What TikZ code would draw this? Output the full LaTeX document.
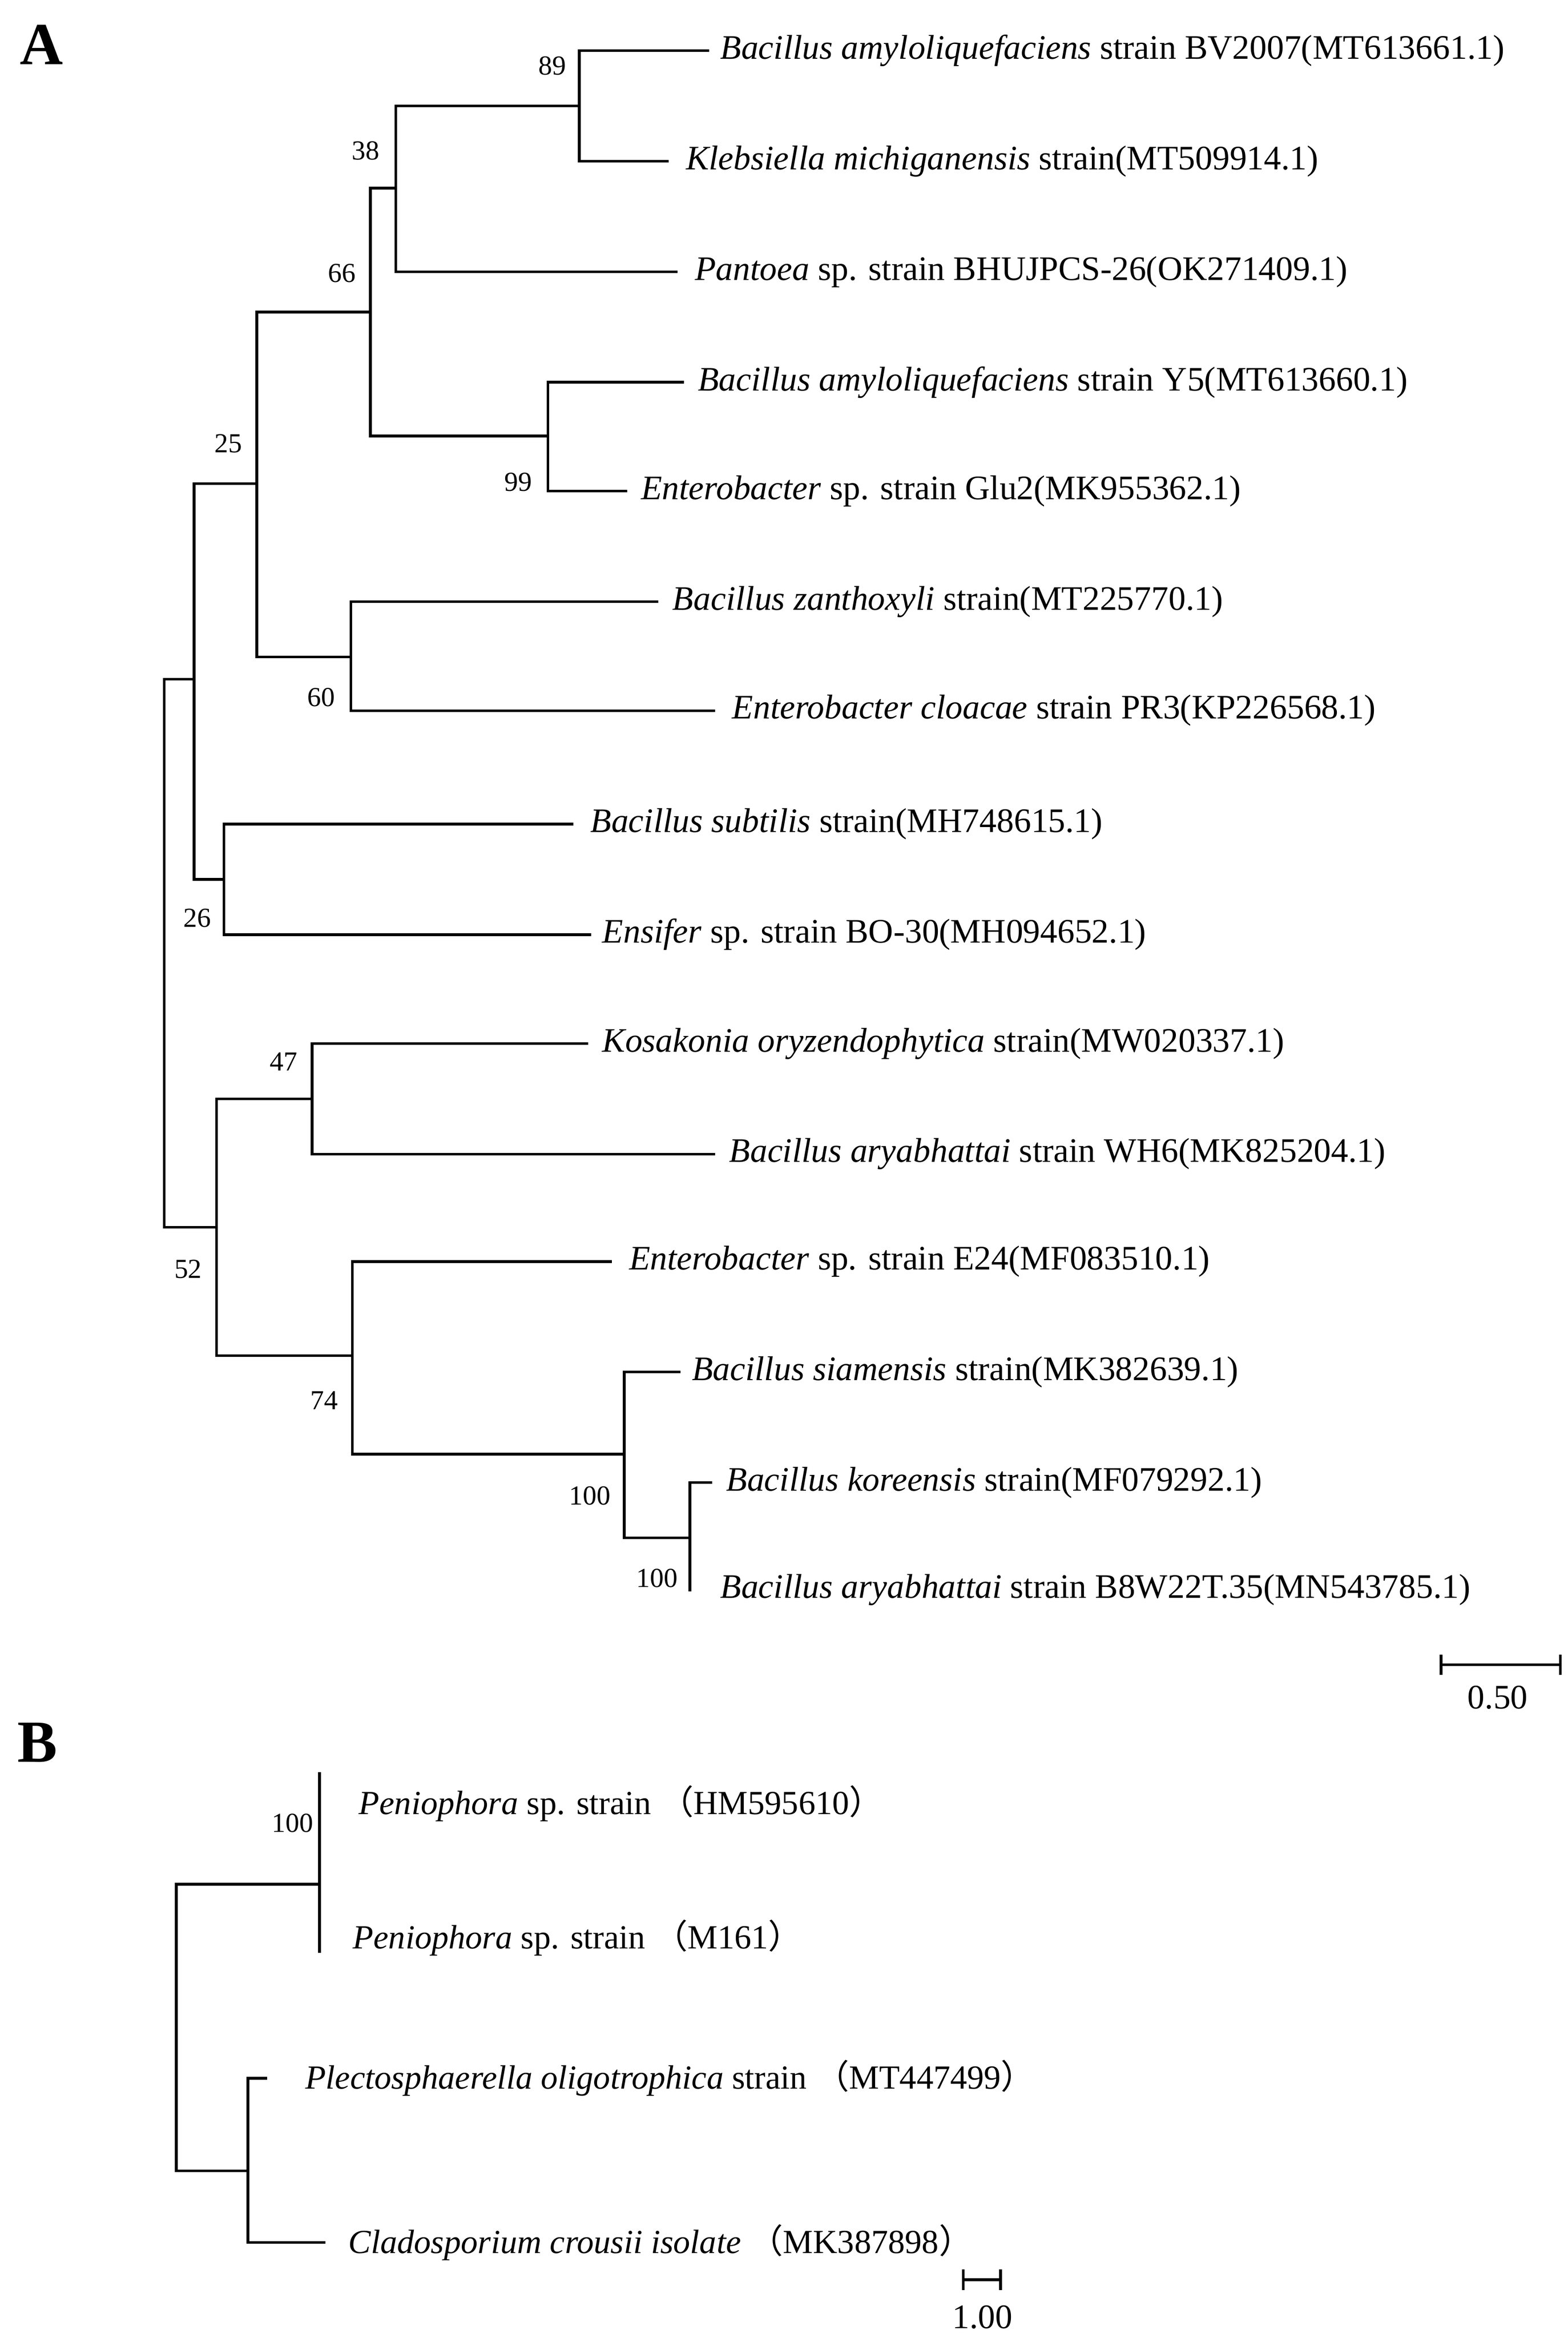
\documentclass[tikz,border=0pt]{standalone}
\usepackage{fontspec}
\setmainfont{Liberation Serif}
\newfontfamily\cjk{Noto Sans CJK SC}
\usetikzlibrary{positioning}

\newcommand{\fp}[1]{{\cjk （}#1{\cjk ）}}

\begin{document}
\begin{tikzpicture}[
    x=0.5pt, y=-0.5pt,
    branch/.style={line width=0.9pt, line cap=rect},
    taxon/.style={anchor=west, inner sep=0pt, font=\fontsize{11.5}{13}\selectfont},
    taxonB/.style={anchor=west, inner sep=0pt, font=\fontsize{11.3}{13}\selectfont},
    boot/.style={inner sep=0pt, font=\fontsize{9.2}{11}\selectfont},
    panel/.style={inner sep=0pt, font=\fontsize{20}{22}\selectfont\bfseries}
]
\useasboundingbox (0,0) rectangle (1050,1566);

% panel A: internal nodes and tips
\coordinate (root) at (110,638);
\coordinate (n130) at (130,455);
\coordinate (n25) at (172,324);
\coordinate (n66) at (248,209);
\coordinate (n38) at (265,126);
\coordinate (n89) at (388,71);
\coordinate (n99) at (367,292);
\coordinate (n60) at (235,440);
\coordinate (n26) at (150,589);
\coordinate (n52) at (145,822);
\coordinate (n47) at (209,736);
\coordinate (n74) at (236,908);
\coordinate (n100a) at (418,974);
\coordinate (n100b) at (462,1030);
\coordinate (tBV) at (474,34);
\coordinate (tKle) at (447,108);
\coordinate (tPan) at (453,182);
\coordinate (tY5) at (457,256);
\coordinate (tGlu) at (419,329);
\coordinate (tZan) at (440,403);
\coordinate (tClo) at (478,476);
\coordinate (tSub) at (383,552);
\coordinate (tEns) at (395,626);
\coordinate (tKos) at (393,699);
\coordinate (tWH6) at (478,773);
\coordinate (tE24) at (409,845);
\coordinate (tSia) at (455,919);
\coordinate (tKor) at (476,993);
\coordinate (tB8) at (462,1065);

\draw[branch] (n130) -| (root) |- (n52);
\draw[branch] (n25) -| (n130) |- (n26);
\draw[branch] (n66) -| (n25) |- (n60);
\draw[branch] (n38) -| (n66) |- (n99);
\draw[branch] (n89) -| (n38) |- (tPan);
\draw[branch] (tBV) -| (n89) |- (tKle);
\draw[branch] (tY5) -| (n99) |- (tGlu);
\draw[branch] (tZan) -| (n60) |- (tClo);
\draw[branch] (tSub) -| (n26) |- (tEns);
\draw[branch] (n47) -| (n52) |- (n74);
\draw[branch] (tKos) -| (n47) |- (tWH6);
\draw[branch] (tE24) -| (n74) |- (n100a);
\draw[branch] (tSia) -| (n100a) |- (n100b);
\draw[branch] (tKor) -| (n100b) |- (tB8);

\node[taxon, right=4pt of tBV] (lBV) {\textit{Bacillus amyloliquefaciens} strain BV2007(MT613661.1)};
\node[taxon, right=6pt of tKle] (lKle) {\textit{Klebsiella michiganensis} strain(MT509914.1)};
\node[taxon, right=6pt of tPan] (lPan) {\textit{Pantoea} sp. strain BHUJPCS-26(OK271409.1)};
\node[taxon, right=5pt of tY5] (lY5) {\textit{Bacillus amyloliquefaciens} strain Y5(MT613660.1)};
\node[taxon, right=5pt of tGlu] (lGlu) {\textit{Enterobacter} sp. strain Glu2(MK955362.1)};
\node[taxon, right=5pt of tZan] (lZan) {\textit{Bacillus zanthoxyli} strain(MT225770.1)};
\node[taxon, right=6pt of tClo] (lClo) {\textit{Enterobacter cloacae} strain PR3(KP226568.1)};
\node[taxon, right=6pt of tSub] (lSub) {\textit{Bacillus subtilis} strain(MH748615.1)};
\node[taxon, right=4pt of tEns] (lEns) {\textit{Ensifer} sp. strain BO-30(MH094652.1)};
\node[taxon, right=5pt of tKos] (lKos) {\textit{Kosakonia oryzendophytica} strain(MW020337.1)};
\node[taxon, right=5pt of tWH6] (lWH6) {\textit{Bacillus aryabhattai} strain WH6(MK825204.1)};
\node[taxon, right=6pt of tE24] (lE24) {\textit{Enterobacter} sp. strain E24(MF083510.1)};
\node[taxon, right=4pt of tSia] (lSia) {\textit{Bacillus siamensis} strain(MK382639.1)};
\node[taxon, right=5pt of tKor] (lKor) {\textit{Bacillus koreensis} strain(MF079292.1)};
\node[taxon, right=10pt of tB8] (lB8) {\textit{Bacillus aryabhattai} strain B8W22T.35(MN543785.1)};

\node[boot] (b89) at (370,44) {89};
\node[boot] (b38) at (245,101) {38};
\node[boot] (b66) at (229,183) {66};
\node[boot] (b25) at (153,297) {25};
\node[boot] (b99) at (347,323) {99};
\node[boot] (b60) at (215,467) {60};
\node[boot] (b26) at (132,615) {26};
\node[boot] (b47) at (190,711) {47};
\node[boot] (b52) at (126,850) {52};
\node[boot] (b74) at (217,938) {74};
\node[boot] (b100a) at (395,1002) {100};
\node[boot] (b100b) at (440,1057) {100};

% scale bar A
\coordinate (sA1) at (965,1115);
\coordinate (sA2) at (1045,1115);
\draw[branch] (sA1) -- (sA2);
\draw[branch] ([yshift=-3pt]sA1) -- ([yshift=3pt]sA1);
\draw[branch] ([yshift=-3pt]sA2) -- ([yshift=3pt]sA2);
\node[boot, font=\fontsize{11.5}{13}\selectfont] (lsA) at (1003,1137) {0.50};

\node[panel] (pA) at (28,30) {A};
\node[panel] (pB) at (25,1167) {B};

% panel B
\coordinate (rootB) at (118,1360);
\coordinate (nPen) at (214,1262);
\coordinate (nLow) at (166,1454);
\coordinate (tPen1) at (214,1188);
\coordinate (tPen2) at (214,1307);
\coordinate (tPle) at (178,1392);
\coordinate (tCla) at (217,1502);

\draw[branch] (nPen) -| (rootB) |- (nLow);
\draw[branch] (tPen1) -- (tPen2);
\draw[branch] (tPle) -| (nLow) |- (tCla);

\node[taxonB, right=13pt of tPen1, yshift=-10pt] (lPen1) {\textit{Peniophora} sp. strain \fp{HM595610}};
\node[taxonB, right=11pt of tPen2, yshift=4.5pt] (lPen2) {\textit{Peniophora} sp. strain \fp{M161}};
\node[taxonB, right=13pt of tPle] (lPle) {\textit{Plectosphaerella oligotrophica} strain \fp{MT447499}};
\node[taxonB, right=8pt of tCla] (lCla) {\textit{Cladosporium crousii isolate} \fp{MK387898}};
\node[boot] (b100B) at (196,1221) {100};

% scale bar B
\coordinate (sB1) at (645,1527);
\coordinate (sB2) at (670,1527);
\draw[branch] (sB1) -- (sB2);
\draw[branch] ([yshift=-3pt]sB1) -- ([yshift=3pt]sB1);
\draw[branch] ([yshift=-3pt]sB2) -- ([yshift=3pt]sB2);
\node[boot, font=\fontsize{11.5}{13}\selectfont] (lsB) at (658,1552) {1.00};
\end{tikzpicture}
\end{document}
